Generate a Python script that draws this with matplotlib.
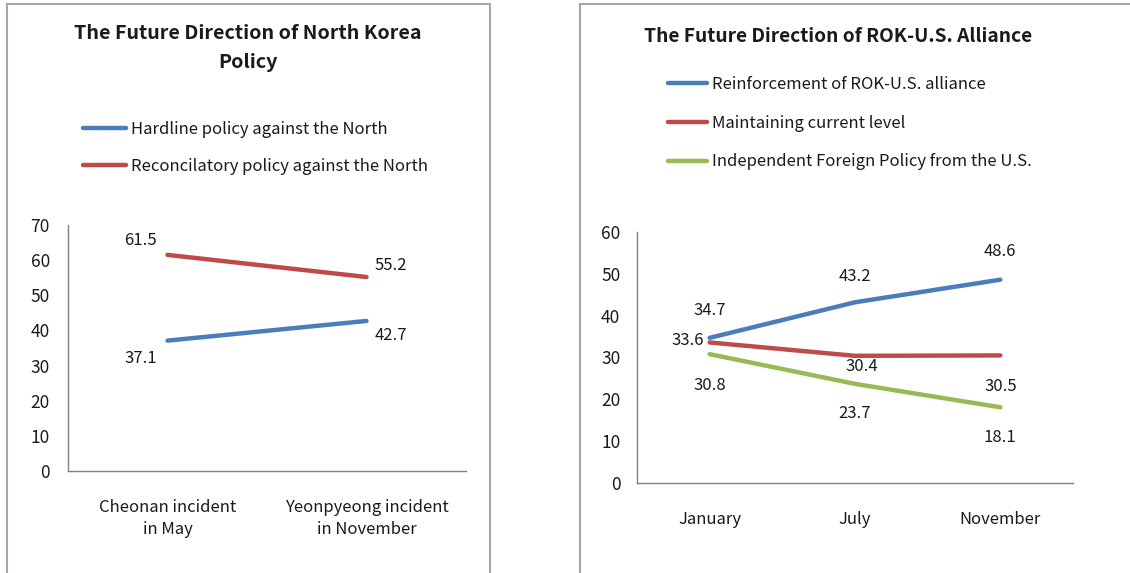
import matplotlib.pyplot as plt
from matplotlib.patches import Rectangle

plt.rcParams['font.family'] = ['Noto Sans CJK KR', 'DejaVu Sans']

# Painel esquerdo
nk_cats = ["Cheonan incident\nin May", "Yeonpyeong incident\nin November"]
nk_hard = [37.1, 42.7]
nk_recon = [61.5, 55.2]

# Painel direito
al_cats = ["January", "July", "November"]
al_reinf = [34.7, 43.2, 48.6]
al_maint = [33.6, 30.4, 30.5]
al_indep = [30.8, 23.7, 18.1]

BLUE = '#4a7ebb'
RED = '#be4b48'
GREEN = '#98b954'
TXT = '#1a1a1a'
SPINE = '#808080'

W, H = 1130, 573
fig = plt.figure(figsize=(W / 100, H / 100), dpi=100)

# molduras dos dois graficos
for x0, x1 in [(7, 490), (580, 1135)]:
    fig.patches.append(Rectangle((x0 / W, -0.02), (x1 - x0) / W, 1 - 4 / H + 0.02,
                                 transform=fig.transFigure, fill=False,
                                 edgecolor='#a6a6a6', linewidth=1.5))


def fx(px):
    return px / W


def fy(py):
    return 1 - py / H


def style_axes(ax):
    for s in ['top', 'right']:
        ax.spines[s].set_visible(False)
    for s in ['left', 'bottom']:
        ax.spines[s].set_color(SPINE)
        ax.spines[s].set_linewidth(1.0)
    ax.tick_params(length=0, labelsize=12.5, labelcolor=TXT)


# ---------- esquerda ----------
ax1 = fig.add_axes([fx(68), fy(471), fx(466) - fx(68), fy(225) - fy(471)])
x1 = range(len(nk_cats))
ax1.plot(x1, nk_hard, color=BLUE, lw=3.2, label='Hardline policy against the North',
         solid_capstyle='round')
ax1.plot(x1, nk_recon, color=RED, lw=3.2, label='Reconcilatory policy against the North',
         solid_capstyle='round')
ax1.set_xlim(-0.5, 1.5)
ax1.set_ylim(0, 70)
ax1.set_yticks(range(0, 71, 10))
ax1.set_xticks(list(x1))
ax1.set_xticklabels(nk_cats, linespacing=1.4)
style_axes(ax1)
ax1.tick_params(axis='x', pad=20, labelsize=12)
ax1.tick_params(axis='y', pad=13)

off1 = {'recon': [(-27, 14), (24, 12)], 'hard': [(-27, -18), (24, -15)]}
for i in x1:
    ax1.annotate(f"{nk_recon[i]:.1f}", (i, nk_recon[i]), xytext=off1['recon'][i],
                 textcoords='offset pixels', ha='center', va='center', fontsize=12, color=TXT)
    ax1.annotate(f"{nk_hard[i]:.1f}", (i, nk_hard[i]), xytext=off1['hard'][i],
                 textcoords='offset pixels', ha='center', va='center', fontsize=12, color=TXT)

fig.text(fx(248), fy(48), 'The Future Direction of North Korea\nPolicy', ha='center',
         va='center', fontsize=14.2, fontweight='bold', color=TXT, linespacing=1.65)
ax1.legend(loc='upper left', bbox_to_anchor=(fx(83), fy(121)), bbox_transform=fig.transFigure,
           frameon=False, fontsize=12, handlelength=2.6, handletextpad=0.3,
           labelspacing=1.2, borderpad=0, borderaxespad=0, labelcolor=TXT)

# ---------- direita ----------
ax2 = fig.add_axes([fx(637), fy(483), fx(1073) - fx(637), fy(232) - fy(483)])
x2 = range(len(al_cats))
ax2.plot(x2, al_reinf, color=BLUE, lw=3.2, label='Reinforcement of ROK-U.S. alliance',
         solid_capstyle='round')
ax2.plot(x2, al_maint, color=RED, lw=3.2, label='Maintaining current level',
         solid_capstyle='round')
ax2.plot(x2, al_indep, color=GREEN, lw=3.2, label='Independent Foreign Policy from the U.S.',
         solid_capstyle='round')
ax2.set_xlim(-0.5, 2.5)
ax2.set_ylim(0, 60)
ax2.set_yticks(range(0, 61, 10))
ax2.set_xticks(list(x2))
ax2.set_xticklabels(al_cats)
style_axes(ax2)
ax2.tick_params(axis='x', pad=20, labelsize=12)
ax2.tick_params(axis='y', pad=12)

off2 = {
    'reinf': [(0, 27), (0, 26), (0, 28)],
    'maint': [(-22, 2), (7, -11), (0, -31)],
    'indep': [(0, -31), (0, -30), (0, -30)],
}
for key, vals in [('reinf', al_reinf), ('maint', al_maint), ('indep', al_indep)]:
    for i in x2:
        ax2.annotate(f"{vals[i]:.1f}", (i, vals[i]), xytext=off2[key][i],
                     textcoords='offset pixels', ha='center', va='center',
                     fontsize=12, color=TXT)

fig.text(fx(838), fy(36), 'The Future Direction of ROK-U.S. Alliance', ha='center',
         va='center', fontsize=13.8, fontweight='bold', color=TXT)
ax2.legend(loc='upper left', bbox_to_anchor=(fx(668), fy(76)), bbox_transform=fig.transFigure,
           frameon=False, fontsize=12, handlelength=2.35, handletextpad=0.3,
           labelspacing=1.3, borderpad=0, borderaxespad=0, labelcolor=TXT)

plt.savefig('out.png', dpi=100)
